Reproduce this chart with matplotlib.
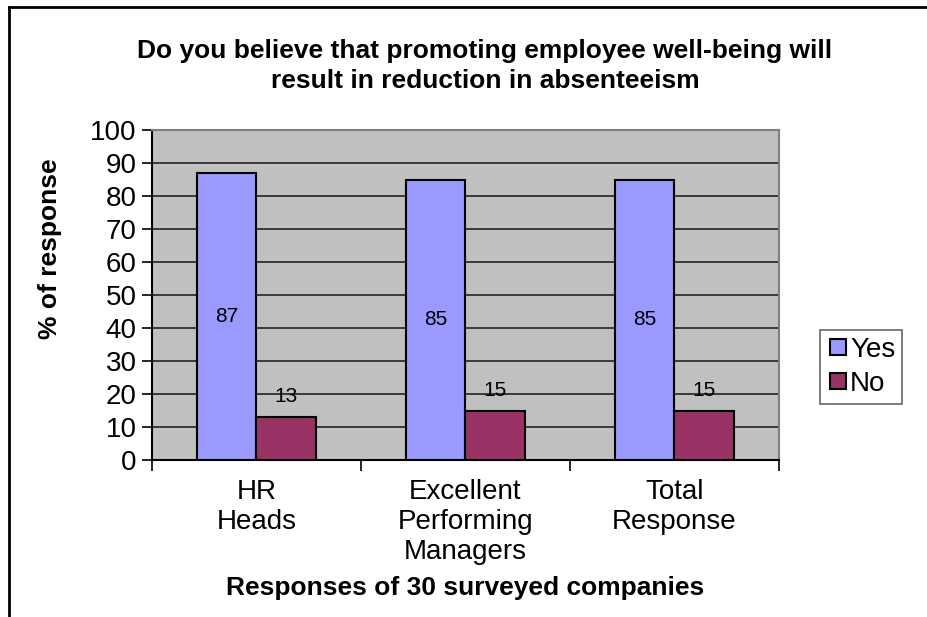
import matplotlib.pyplot as plt
from matplotlib.lines import Line2D
import numpy as np

plt.rcParams['font.family'] = ['Liberation Sans', 'DejaVu Sans']

categories = ["HR\nHeads", "Excellent\nPerforming\nManagers", "Total\nResponse"]
yes_values = [87, 85, 85]
no_values = [13, 15, 15]
series_names = ["Yes", "No"]

W, H = 928, 617
fig = plt.figure(figsize=(W / 100, H / 100), dpi=100)

# plot area in pixel coordinates
left, right, top, bottom = 152, 779, 130, 460
ax = fig.add_axes([left / W, 1 - bottom / H, (right - left) / W, (bottom - top) / H])
ax.set_facecolor('#C0C0C0')

x = np.arange(len(categories))
bw = 1 / 3.5
bars_yes = ax.bar(x - bw / 2, yes_values, bw, color='#9999FF', edgecolor='black', linewidth=1.5, zorder=3)
bars_no = ax.bar(x + bw / 2, no_values, bw, color='#993366', edgecolor='black', linewidth=1.5, zorder=3)

for b, v in zip(bars_yes, yes_values):
    ax.text(b.get_x() + b.get_width() / 2, v / 2, str(v), ha='center', va='center', fontsize=15, zorder=4)
for b, v in zip(bars_no, no_values):
    ax.text(b.get_x() + b.get_width() / 2, v + 3.3, str(v), ha='center', va='bottom', fontsize=15, zorder=4)

ax.set_xlim(-0.5, len(categories) - 0.5)
ax.set_ylim(0, 100)
ax.set_yticks(range(0, 101, 10))
ax.yaxis.grid(True, color='#222222', linewidth=1.2, zorder=1)
ax.set_axisbelow(True)

ax.set_xticks(np.arange(-0.5, len(categories), 1))
ax.set_xticklabels([])
ax.set_xticks(x, minor=True)
ax.set_xticklabels(categories, minor=True, fontsize=20, linespacing=1.18)
ax.tick_params(axis='x', which='minor', length=0, pad=14)
ax.tick_params(axis='x', which='major', length=8, width=1.2, direction='out')
ax.tick_params(axis='y', length=7, width=1.2, direction='out', labelsize=20, pad=4)

for s in ['left', 'bottom']:
    ax.spines[s].set_color('black')
    ax.spines[s].set_linewidth(1.5)
for s in ['top', 'right']:
    ax.spines[s].set_color('#808080')
    ax.spines[s].set_linewidth(1.5)

ax.set_ylabel("% of response", fontsize=19, fontweight='bold')
ax.yaxis.set_label_coords(-0.143, 0.64)
ax.set_xlabel("Responses of 30 surveyed companies", fontsize=19, fontweight='bold', labelpad=8)

fig.text(485 / W, 1 - 66 / H,
         "Do you believe that promoting employee well-being will\nresult in reduction in absenteeism",
         ha='center', va='center', fontsize=19, fontweight='bold', linespacing=1.35)

handles = [Line2D([], [], marker='s', linestyle='none', markersize=11,
                  markerfacecolor=c, markeredgecolor='black', markeredgewidth=1.5)
           for c in ['#9999FF', '#993366']]
leg = fig.legend(handles, series_names, loc='center', bbox_to_anchor=(861 / W, 1 - 367 / H),
                 fontsize=20, frameon=True, fancybox=False, edgecolor='#404040',
                 handletextpad=0.05, borderpad=0.25, labelspacing=0.3, handlelength=0.8,
                 borderaxespad=0)
leg.get_frame().set_linewidth(1.2)

# outer chart border (left and top)
fig.add_artist(Line2D([9 / W, 9 / W], [0, 1 - 7 / H], color='black', linewidth=2, transform=fig.transFigure))
fig.add_artist(Line2D([9 / W, 1], [1 - 7 / H, 1 - 7 / H], color='black', linewidth=2, transform=fig.transFigure))

fig.savefig("out.png", dpi=100)
